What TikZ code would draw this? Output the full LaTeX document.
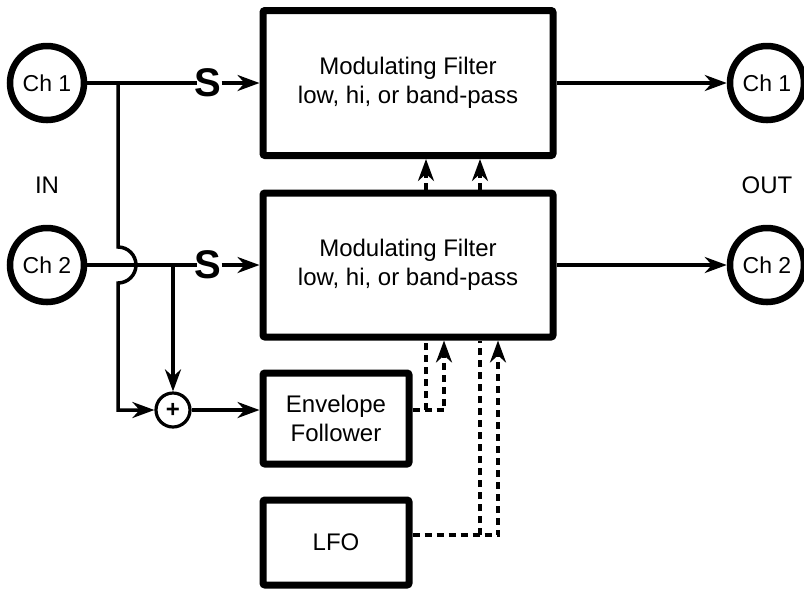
\documentclass[tikz,border=0pt]{standalone}
\usepackage{fontspec}
\setmainfont{Liberation Sans}
\usepackage{tikz}
\usetikzlibrary{arrows.meta,positioning}
\tikzset{%
  modbox/.style={%
    draw,
    line width=3.5pt,
    rounded corners=1pt,
    fill=white,
    align=center,
    inner sep=0pt,
    font=\fontsize{12}{14.5}\selectfont
  },
  modport/.style={%
    circle,
    draw,
    line width=3.25pt,
    minimum size=37pt,
    inner sep=0pt,
    font=\fontsize{11.5}{13}\selectfont
  },
  modsum/.style={%
    circle,
    draw,
    line width=1.6pt,
    minimum size=17pt,
    inner sep=0pt,
    font=\fontsize{12}{12}\selectfont\bfseries
  },
  modsplit/.style={inner sep=0pt,font=\fontsize{20}{20}\selectfont\bfseries},
  modlabel/.style={font=\fontsize{12}{14}\selectfont},
  modline/.style={line width=1.75pt},
  modarrow/.style={modline,-{Stealth[length=11pt,width=8pt]}},
  modctl/.style={line width=1.75pt,dash pattern=on 3.5pt off 2.5pt},
  modctlarrow/.style={modctl,-{Stealth[length=11pt,width=8pt]}}
}
\begin{document}
\begin{tikzpicture}[x=0.5pt,y=-0.5pt]
    \useasboundingbox (0,0) rectangle (804,591);

    \node[modport] (inA) at (47,83) {Ch 1};
    \node[modport] (inB) at (47,265) {Ch 2};
    \node[modlabel] (inlabel) at (47,185) {IN};
    \node[modport] (outA) at (767,83) {Ch 1};
    \node[modport] (outB) at (767,265) {Ch 2};
    \node[modlabel] (outlabel) at (767,185) {OUT};

    \node[modbox,minimum width=145pt,minimum height=72.5pt] (fltA) at (408,83) {Modulating Filter\\low, hi, or band-pass};
    \node[modbox,minimum width=145pt,minimum height=72pt] (fltB) at (408,265) {Modulating Filter\\low, hi, or band-pass};
    \node[modsplit] (sA) at (208,83) {S};
    \node[modsplit] (sB) at (208,265) {S};

    \node[modsum] (sum) at (173,410) {+};
    \node[modbox,minimum width=73pt,minimum height=45.5pt] (env) at (336,418.5) {Envelope\\Follower};
    \node[modbox,minimum width=73pt,minimum height=42.5pt] (lfo) at (336,542.5) {LFO};

    \coordinate (tapA) at (118,83);
    \coordinate (hop) at (tapA |- inB);
    \coordinate (envup) at (426,0);
    \coordinate (envin) at (444,0);
    \coordinate (lfoup) at (480,0);
    \coordinate (lfoin) at (498,0);
    \coordinate (lfoout) at ([yshift=3.75pt]lfo.east);

    % audio path
    \draw[modline,shorten >=-1.5pt] (inA) -- (sA);
    \draw[modarrow] (sA) -- (fltA);
    \draw[modarrow] (fltA) -- (outA);
    \draw[modline,shorten >=-1.5pt] (inB) -- (sB);
    \draw[modarrow] (sB) -- (fltB);
    \draw[modarrow] (fltB) -- (outB);

    % sidechain sum
    \draw[modarrow] (tapA) -- ([yshift=9pt]hop) arc[start angle=90,end angle=-90,radius=9pt] -- (tapA |- sum) -- (sum);
    \draw[modarrow] (sum |- inB) -- (sum);
    \draw[modarrow] (sum) -- (env.west |- sum);

    % modulation
    \draw[modctlarrow] (env.east |- sum) -| (envin |- fltB.south);
    \draw[modctl] (envup |- sum) -- (envup |- fltB.south);
    \draw[modctlarrow] (envup |- fltB.north) -- (envup |- fltA.south);
    \draw[modctlarrow] (lfoout) -| (lfoin |- fltB.south);
    \draw[modctl] (lfoup |- lfoout) -- (lfoup |- fltB.south);
    \draw[modctlarrow] (lfoup |- fltB.north) -- (lfoup |- fltA.south);
\end{tikzpicture}
\end{document}
